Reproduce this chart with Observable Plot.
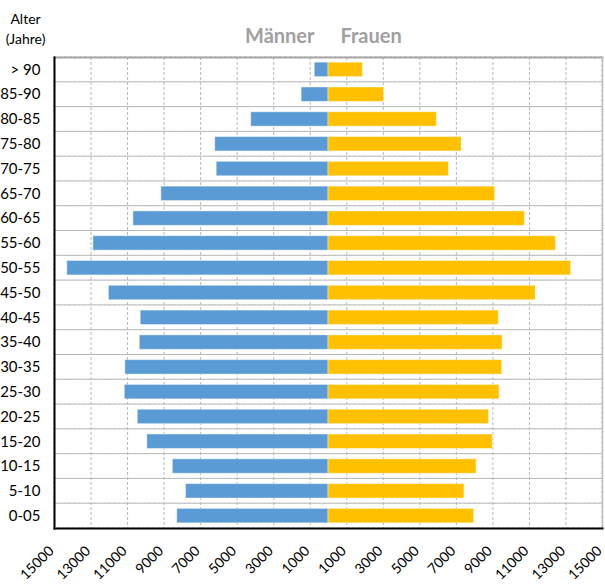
<!DOCTYPE html>
<html><head><meta charset="utf-8">
<script src="https://cdn.jsdelivr.net/npm/d3@7"></script>
<script src="https://cdn.jsdelivr.net/npm/@observablehq/plot@0.6"></script>
<style>body{margin:0;background:#fff;}</style>
</head><body><div id="chart"></div>
<script>
const ageGroups = ["> 90","85-90","80-85","75-80","70-75","65-70","60-65","55-60","50-55","45-50","40-45","35-40","30-35","25-30","20-25","15-20","10-15","5-10","0-05"];
const men =   [750, 1470, 4230, 6200, 6120, 9150, 10680, 12870, 14300, 12020, 10280, 10330, 11120, 11150, 10440, 9920, 8520, 7800, 8280];
const women = [1880, 3040, 5930, 7290, 6590, 9120, 10750, 12450, 13280, 11340, 9320, 9530, 9510, 9360, 8780, 8990, 8100, 7440, 7970];
const xTicks = [-15000,-13000,-11000,-9000,-7000,-5000,-3000,-1000,1000,3000,5000,7000,9000,11000,13000,15000];
const seriesLabels = ["Männer","Frauen"];
const seriesColors = ["#5B9BD5","#FFC000"];
const yTitle = "Alter\n(Jahre)";

const data = ageGroups.flatMap((a,i)=>[
  {age:a, sex:seriesLabels[0], v:-men[i]},
  {age:a, sex:seriesLabels[1], v:women[i]}
]);
const font = "Lato, sans-serif";
const chart = Plot.plot({
  width:605, height:587,
  marginLeft:54, marginRight:3, marginTop:57, marginBottom:59,
  style:{fontFamily:font, fontSize:"15px", color:"#000", background:"#fff"},
  x:{domain:[-15000,15000], label:null},
  y:{domain:ageGroups, padding:0, round:false, label:null},
  color:{domain:seriesLabels, range:seriesColors},
  marks:[
    Plot.gridX(xTicks, {stroke:"#b8b8b8", strokeOpacity:1, strokeDasharray:"3,2"}),
    Plot.barX(ageGroups, {y:d=>d, x1:-15000, x2:15000, fill:"none", stroke:"#b8b8b8", strokeDasharray:"3,2"}),
    Plot.barX(data, {y:"age", x1:0, x2:"v", fill:"sex", insetTop:5.2, insetBottom:5.2, stroke:"#fff", strokeOpacity:0.4, strokeWidth:1}),
    Plot.axisX(xTicks, {tickFormat:d=>String(Math.abs(d)), tickRotate:-45, tickSize:0, tickPadding:20, dx:-3, fontSize:14, label:null}),
    Plot.axisY({tickSize:0, tickPadding:14, fontSize:15, label:null}),
    Plot.frame({anchor:"top", stroke:"#a6a6a6", strokeWidth:2}),
    Plot.frame({anchor:"right", stroke:"#bfbfbf", strokeWidth:1.5}),
    Plot.frame({anchor:"left", stroke:"#000", strokeWidth:2}),
    Plot.frame({anchor:"bottom", stroke:"#000", strokeWidth:2}),
    Plot.text([seriesLabels[0]], {x:0, text:d=>d, frameAnchor:"top", lineAnchor:"middle", dy:-21, dx:-14, textAnchor:"end", fontSize:20, fontWeight:"bold", fill:"#a0a0a0"}),
    Plot.text([seriesLabels[1]], {x:0, text:d=>d, frameAnchor:"top", lineAnchor:"middle", dy:-21, dx:12, textAnchor:"start", fontSize:20, fontWeight:"bold", fill:"#a0a0a0"}),
    Plot.text([yTitle], {text:d=>d, frameAnchor:"top-left", lineAnchor:"middle", dx:-29, dy:-30, textAnchor:"middle", lineHeight:1.4, fontSize:14, fill:"#000"})
  ]
});
document.getElementById("chart").appendChild(chart);
</script>
</body></html>
